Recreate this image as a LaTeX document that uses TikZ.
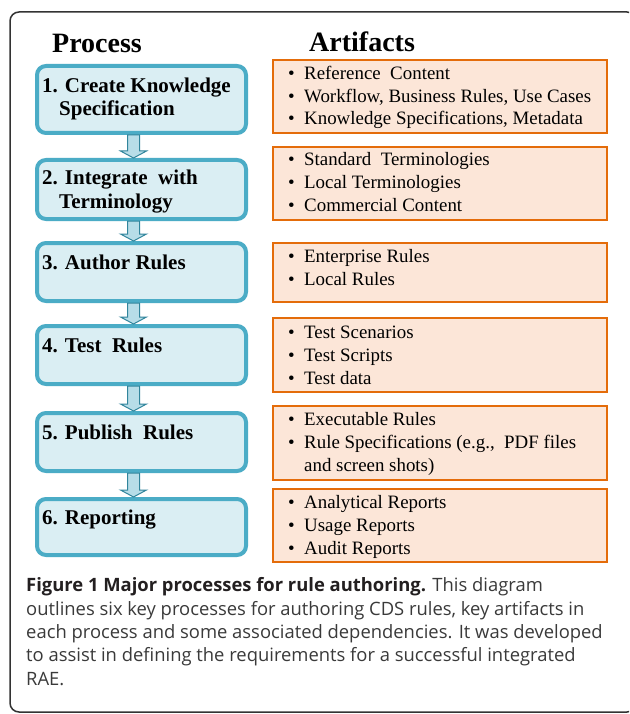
\documentclass[tikz,border=0pt]{standalone}
\usepackage{fontspec}
\setmainfont{Liberation Serif}
\newfontfamily\capfont{Open Sans}
\usetikzlibrary{calc}
\definecolor{procfill}{HTML}{DAEEF3}
\definecolor{procborder}{HTML}{4BACC6}
\definecolor{arrowfill}{HTML}{B7DDE8}
\definecolor{arrowborder}{HTML}{31859C}
\definecolor{artfill}{HTML}{FCE6D8}
\definecolor{artborder}{HTML}{E46C0A}
\definecolor{framecol}{HTML}{333333}
\definecolor{captext}{HTML}{3A3A3A}
\definecolor{capbold}{HTML}{231F20}
\begin{document}
\begin{tikzpicture}[x=1pt,y=-1pt,
  pbox/.style={draw=procborder, fill=procfill, line width=4pt, rounded corners=9pt, inner sep=0pt, minimum width=209pt},
  abox/.style={draw=artborder, fill=artfill, line width=2pt, inner sep=0pt, minimum width=334pt},
  ptext/.style={anchor=base west, inner sep=0pt, align=left, font=\fontsize{21}{23.5}\selectfont\bfseries},
  atext/.style={anchor=base west, inner sep=0pt, align=left, font=\fontsize{18.9}{22.6}\selectfont},
  head/.style={anchor=base west, inner sep=0pt, font=\fontsize{28}{30}\selectfont\bfseries},
  barrow/.style={draw=arrowborder, fill=arrowfill, line width=1pt, line join=miter},
  frame/.style={draw=framecol, line width=1.5pt, rounded corners=9pt}]
\newcommand{\bul}{\makebox[16pt][l]{\textbullet}}
\clip (0,0) rectangle (629,714);
\fill[white] (0,0) rectangle (629,714);
\draw[frame] (10,12) rectangle (636,712);
% headers
\node[head] (hproc) at (52,53) {Process};
\node[head] (hart) at (309,52) {Artifacts};
% process boxes
\node[pbox, minimum height=67pt] (p1) at (141.5,99.5) {};
\node[pbox, minimum height=59pt] (p2) at (141.5,189.5) {};
\node[pbox, minimum height=58pt] (p3) at (141.5,272) {};
\node[pbox, minimum height=58pt] (p4) at (141.5,355) {};
\node[pbox, minimum height=58pt] (p5) at (141.5,442) {};
\node[pbox, minimum height=56pt] (p6) at (141.5,527) {};
% (base anchor of a multi-line node = baseline of its last line)
\node[ptext] (t1) at (42,116) {1. Create Knowledge\\\hspace*{17pt}Specification};
\node[ptext] (t2) at (42,208) {2. Integrate~ with\\\hspace*{17pt}Terminology};
\node[ptext] (t3) at (42,269) {3. Author Rules};
\node[ptext] (t4) at (42,352) {4. Test~ Rules};
\node[ptext] (t5) at (42,439) {5. Publish~ Rules};
\node[ptext] (t6) at (42,524) {6. Reporting};
% arrows
\foreach \a/\b in {p1/p2,p2/p3,p3/p4,p4/p5,p5/p6}
  \draw[barrow] let \p1=($(\a.south)+(-8,0)$), \p2=($(\b.north)+(-8,0)$) in
    (\x1-6pt,\y1) -- (\x1+6pt,\y1) -- (\x1+6pt,\y2+7pt) -- (\x1+13pt,\y2+7pt)
    -- (\x1,\y2) -- (\x1-13pt,\y2+7pt) -- (\x1-6pt,\y2+7pt) -- cycle;
% artifact boxes
\node[abox, minimum height=73pt] (a1) at (440,96.5) {};
\node[abox, minimum height=73pt] (a2) at (440,183.5) {};
\node[abox, minimum height=59pt] (a3) at (440,272.5) {};
\node[abox, minimum height=74pt] (a4) at (440,355) {};
\node[abox, minimum height=74pt] (a5) at (440,443) {};
\node[abox, minimum height=73pt] (a6) at (440,525.5) {};
\node[atext] (l1) at (288,125) {\bul Reference~ Content\\\bul Workflow, Business Rules, Use Cases\\\bul Knowledge Specifications, Metadata};
\node[atext] (l2) at (288,211) {\bul Standard~ Terminologies\\\bul Local Terminologies\\\bul Commercial Content};
\node[atext] (l3) at (288,285) {\bul Enterprise Rules\\\bul Local Rules};
\node[atext] (l4) at (288,384) {\bul Test Scenarios\\\bul Test Scripts\\\bul Test data};
\node[atext] (l5) at (288,471) {\bul Executable Rules\\\bul Rule Specifications (e.g.,~ PDF files\\\hspace*{16pt}and screen shots)};
\node[atext] (l6) at (288,554) {\bul Analytical Reports\\\bul Usage Reports\\\bul Audit Reports};
% caption
\node[anchor=base west, inner sep=0pt, align=left, text=captext,
  font=\capfont\fontsize{18.4}{23.3}\selectfont] (cap) at (26,685)
  {{\bfseries\color{capbold}Figure 1 Major processes for rule authoring.} This diagram\\
   outlines six key processes for authoring CDS rules, key artifacts in\\
   each process and some associated dependencies. It was developed\\
   to assist in defining the requirements for a successful integrated\\
   RAE.};
\end{tikzpicture}
\end{document}
